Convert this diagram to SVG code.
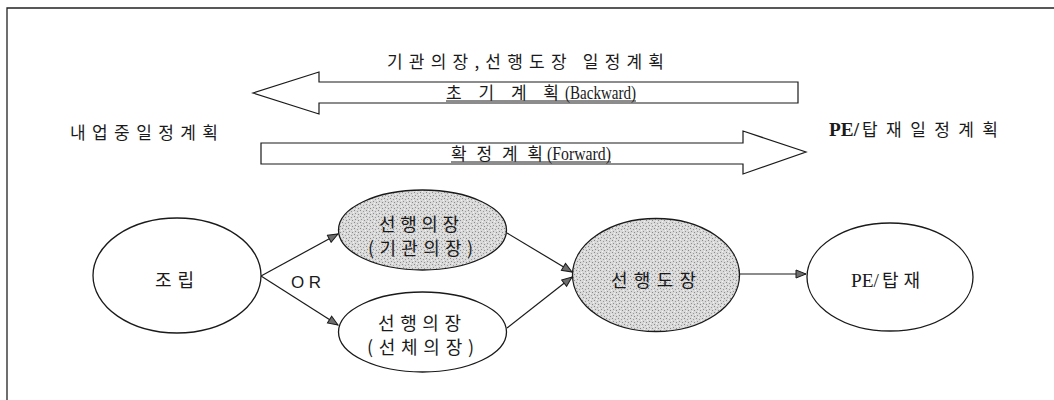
<svg xmlns="http://www.w3.org/2000/svg" width="1054" height="400" viewBox="0 0 1054 400">
<style>
.frame{stroke:#222;stroke-width:1.3;fill:none}
.blk{fill:#fff;stroke:#1a1a1a;stroke-width:1.2;stroke-linejoin:miter}
.nd{stroke:#1a1a1a;stroke-width:1.3}
.plain{fill:#fff}
.shade{fill:url(#stip)}
.cn{stroke:#1a1a1a;stroke-width:1.2;fill:none}
.ko{font-family:"Noto Sans CJK KR","Liberation Sans",sans-serif;font-size:17px;fill:#1a1a1a}
.nt{font-family:"Noto Sans CJK KR","Liberation Sans",sans-serif;font-size:18px;fill:#1a1a1a}
.lat{font-family:"Liberation Serif","Noto Sans CJK KR",serif;font-size:19px}
.ul{stroke:#1a1a1a;stroke-width:1}
</style>
<defs>
<pattern id="stip" width="6" height="6" patternUnits="userSpaceOnUse">
<rect width="6" height="6" fill="#d9d9d9"/>
<rect x="0" y="0" width="1" height="1" fill="#8a8a8a"/>
<rect x="3" y="1" width="1" height="1" fill="#9a9a9a"/>
<rect x="1" y="3" width="1" height="1" fill="#909090"/>
<rect x="4" y="4" width="1" height="1" fill="#8a8a8a"/>
<rect x="5" y="2" width="1" height="1" fill="#f2f2f2"/>
<rect x="2" y="5" width="1" height="1" fill="#f2f2f2"/>
</pattern>
<marker id="ah" markerUnits="userSpaceOnUse" markerWidth="12" markerHeight="10" refX="11" refY="5" orient="auto">
<path d="M1,1 L11,5 L1,9 Z" fill="#6e6e6e" stroke="#1a1a1a" stroke-width="1"/>
</marker>
</defs>

<path class="frame" d="M7,400 L7,8 L1054,8"/>

<g id="plan-backward">
<path class="blk" d="M798,82 L319,82 L319,72 L253,93 L319,114 L319,103 L798,103 Z"/>
<text class="ko" y="99"><tspan x="446" textLength="113" lengthAdjust="spacing">초기계획</tspan><tspan class="lat" x="565" textLength="71" lengthAdjust="spacingAndGlyphs">(Backward)</tspan></text>
<line class="ul" x1="446" y1="101" x2="636" y2="101"/>
</g>
<g id="plan-forward">
<path class="blk" d="M261,143 L743,143 L743,131 L806,152 L743,174 L743,164 L261,164 Z"/>
<text class="ko" y="160"><tspan x="451" textLength="92" lengthAdjust="spacing">확정계획</tspan><tspan class="lat" x="547" textLength="64" lengthAdjust="spacingAndGlyphs">(Forward)</tspan></text>
<line class="ul" x1="451" y1="162" x2="611" y2="162"/>
</g>

<g id="title">
<text class="ko" x="387" y="68" font-size="18" textLength="277" lengthAdjust="spacing">기관의장,선행도장 일정계획</text>
</g>
<g id="label-left">
<text class="ko" x="70" y="139" font-size="18" textLength="148" lengthAdjust="spacing">내업중일정계획</text>
</g>
<g id="label-right">
<text class="ko" y="136" font-size="18"><tspan class="lat" x="829" font-weight="bold" textLength="30" lengthAdjust="spacingAndGlyphs">PE/</tspan><tspan x="862" textLength="136" lengthAdjust="spacing">탑재일정계획</tspan></text>
</g>

<g id="connectors">
<line class="cn" x1="261" y1="276" x2="338" y2="234" marker-end="url(#ah)"/>
<line class="cn" x1="261" y1="276" x2="338" y2="325" marker-end="url(#ah)"/>
<line class="cn" x1="507" y1="233" x2="572" y2="272" marker-end="url(#ah)"/>
<line class="cn" x1="507" y1="328" x2="572" y2="277" marker-end="url(#ah)"/>
<line class="cn" x1="739" y1="274" x2="806" y2="274" marker-end="url(#ah)"/>
<text x="291" y="288" font-family="Liberation Sans, Arial, sans-serif" font-size="17" fill="#1a1a1a" textLength="30" lengthAdjust="spacing">OR</text>
</g>

<g id="node-assembly">
<ellipse class="nd plain" cx="177" cy="275.5" rx="84" ry="57.5"/>
<text class="nt" x="155" y="287" textLength="39" lengthAdjust="spacing">조립</text>
</g>
<g id="node-outfit-engine">
<ellipse class="nd shade" cx="422.5" cy="230" rx="84" ry="40"/>
<text class="nt" x="379" y="231" textLength="80" lengthAdjust="spacing">선행의장</text>
<text class="nt" x="368" y="255" textLength="105" lengthAdjust="spacing">(기관의장)</text>
</g>
<g id="node-outfit-hull">
<ellipse class="nd plain" cx="422.5" cy="332" rx="84" ry="40"/>
<text class="nt" x="378" y="330" textLength="83" lengthAdjust="spacing">선행의장</text>
<text class="nt" x="367" y="354" textLength="107" lengthAdjust="spacing">(선체의장)</text>
</g>
<g id="node-painting">
<ellipse class="nd shade" cx="656" cy="275" rx="83.5" ry="56.5"/>
<text class="nt" x="611" y="287" textLength="85" lengthAdjust="spacing">선행도장</text>
</g>
<g id="node-pe">
<ellipse class="nd plain" cx="890" cy="277" rx="83" ry="54"/>
<text class="nt" y="287"><tspan class="lat" x="851" textLength="28" lengthAdjust="spacingAndGlyphs">PE/</tspan><tspan x="882" textLength="38" lengthAdjust="spacing">탑재</tspan></text>
</g>
</svg>
